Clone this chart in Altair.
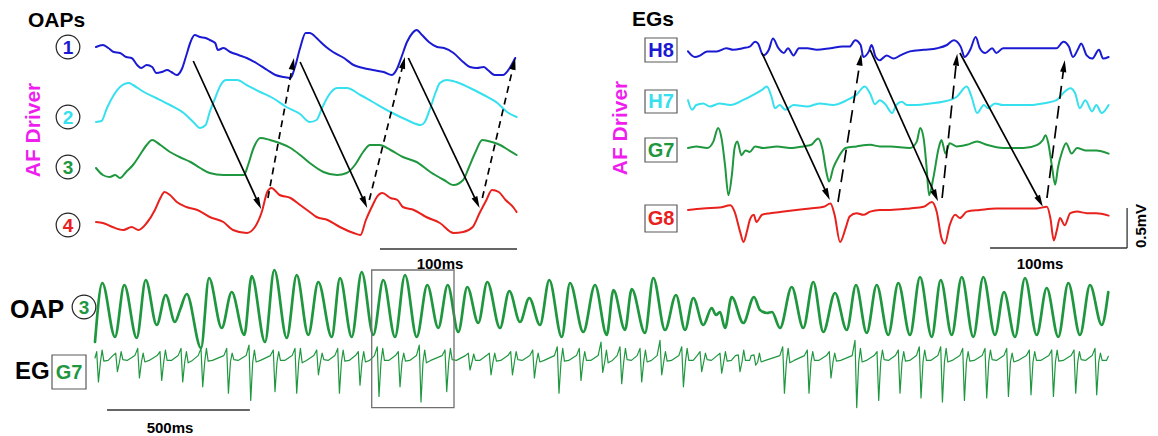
import math
import altair as alt
import pandas as pd

W, H = 1158, 436
FONT = "Liberation Sans"
BLUE, CYAN, GREEN, RED = "#1a1ad2", "#36e0ee", "#1f973f", "#e8211d"
MAGENTA = "#ee1eee"
BOXGRAY = "#5a5a5a"

# ---------------- data: top-left optical action potentials (time ms, signal a.u.)
OAP1_T = [0, 5, 9, 13, 17.5, 22, 26, 30, 33, 37, 41, 44, 48, 52, 55, 59, 63, 66, 69, 72, 76, 80, 83, 87, 89, 93, 98, 104, 110, 117,
          125, 131, 137, 142, 145, 149, 153, 156, 161, 164, 168, 173, 181, 188, 195, 202, 210, 216, 220, 223, 227, 231, 234, 238,
          243, 249, 254, 261, 268, 273, 278, 283, 286, 291, 297, 302, 306]
OAP1_V = [33, 35, 32, 28, 27, 23, 22, 15, 12, 15, 13, 7, 8, 10, 8, 5, 12, 25, 38, 45, 43, 42, 40, 37, 30, 32, 28, 25, 22, 17,
          10, 5, 3, 2, 12, 32, 47, 47, 42, 38, 33, 28, 22, 15, 12, 10, 8, 5, 12, 23, 38, 47, 50, 45, 38, 33, 32, 27, 18, 13,
          12, 13, 10, 5, 5, 12, 22]
OAP2_T = [0, 4, 8, 13, 17.5, 24, 27, 35, 44, 54, 64, 71, 76, 80, 83, 87, 91, 95, 103, 110, 120, 129, 139, 149, 156, 161, 165,
          170, 176, 183, 193, 202, 215, 227, 237, 240, 244, 248, 251, 256, 263, 273, 283, 293, 300, 307]
OAP2_V = [8, 9, 22, 35, 43, 47, 45, 38, 32, 25, 17, 8, 2, 5, 18, 32, 45, 50, 50, 45, 38, 32, 23, 16, 8, 10, 22, 35, 42, 42,
          35, 28, 18, 10, 5, 8, 22, 38, 47, 50, 48, 42, 35, 27, 18, 13]
OAP3_T = [0, 5, 10, 14, 17.5, 22, 27, 32, 37, 41, 47, 54, 61, 69, 76, 83, 93, 103, 108, 111, 115, 120, 127, 134, 142, 149, 156,
          166, 176, 183, 189, 195, 200, 207, 215, 224, 234, 244, 254, 261, 268, 272, 277, 282, 289, 295, 301, 307]
OAP3_V = [17, 10, 8, 10, 7, 13, 20, 30, 40, 45, 40, 33, 28, 23, 17, 12, 10, 10, 10, 20, 37, 47, 45, 42, 37, 30, 22, 13, 10, 12,
          20, 33, 40, 40, 35, 28, 23, 13, 5, 0, 5, 17, 33, 45, 43, 40, 35, 30]
OAP4_T = [0, 5, 12, 20, 26, 31, 37, 43, 47, 50, 54, 59, 66, 74, 83, 93, 100, 110, 116, 121, 125, 128, 134, 142, 149, 156, 161,
          169, 178, 188, 193, 197, 202, 205, 209, 215, 220, 224, 232, 241, 251, 261, 268, 275, 280, 285, 289, 294, 299, 305, 307]
OAP4_V = [14, 13, 9, 6, 9, 6, 13, 26, 38, 44, 41, 34, 29, 26, 19, 14, 6, 3, 9, 24, 44, 48, 41, 38, 31, 24, 19, 16, 9, 3,
          1, 16, 31, 39, 43, 38, 36, 29, 26, 19, 13, 3, 4, 9, 23, 36, 46, 44, 36, 28, 24]

# ---------------- data: top-right electrograms (time ms, mV)
H8_T = [0, 5, 9, 14, 21, 28, 33, 40, 45, 49, 51, 55, 59, 62, 66, 70, 73, 77, 81, 87, 94, 104, 113, 118, 122, 126, 128, 132, 134,
        137, 140, 145, 150, 155, 162, 172, 182, 189, 194, 199, 202, 206, 210, 213, 217, 222, 225, 230, 240, 250, 259, 269, 274,
        278, 281, 285, 287, 291, 295, 300, 303, 307]
H8_V = [-0.03, -0.10, -0.08, -0.03, -0.03, 0.01, -0.01, 0.01, 0.03, 0.09, 0.07, -0.08, -0.01, 0.13, 0.01, -0.05, 0.01, -0.08,
        0.01, 0.01, -0.01, 0.01, 0.03, 0.03, 0.11, 0.05, -0.10, -0.03, 0.05, -0.10, -0.14, -0.08, -0.12, -0.08, -0.03, -0.01,
        0.01, 0.05, 0.11, 0.03, -0.10, -0.01, 0.15, 0.01, -0.05, 0.01, -0.05, 0.01, 0.01, 0.01, 0.01, 0.01, 0.09, 0.03, -0.10,
        0.01, 0.07, -0.08, -0.12, -0.01, -0.12, -0.10]
H7_T = [0, 3, 6, 11, 16, 23, 31, 40, 48, 54, 57.5, 61, 63.5, 67, 71, 77, 87, 96, 106, 116, 123, 129, 133, 136.5, 140, 144, 149,
        152, 156, 160, 167, 177, 186, 196, 203.5, 207, 211, 216, 219, 224, 230, 240, 250, 259, 269, 274, 279, 282.5, 286, 290,
        295, 298, 302, 307]
H7_V = [0.06, -0.06, 0, 0.02, -0.02, 0.02, 0, 0.06, 0.13, 0.19, 0.23, 0.10, -0.04, 0, -0.06, 0, -0.02, 0.02, 0, 0.06, 0.13,
        0.23, 0.14, 0.01, 0.06, 0.01, -0.10, 0, 0.04, 0, 0, 0.02, 0.04, 0.10, 0.23, 0.10, -0.10, 0, -0.04, 0.02, 0, 0, 0, 0.02,
        0.06, 0.15, 0.21, 0.15, -0.04, 0.06, -0.08, 0, -0.10, 0]
G7_T = [0, 6, 14, 18.5, 22, 24.5, 27, 29.5, 32, 34, 36, 39, 42, 45, 49, 55, 65, 74.5, 84, 90, 95, 98, 101, 103, 106, 110, 115,
        123, 133, 140, 147.5, 162, 167, 169.5, 172, 174, 176, 179, 183, 185, 188, 191, 196, 203.5, 211, 218, 230, 245, 255, 259,
        261, 263, 265.5, 268, 270, 273, 276, 280, 284, 290, 298, 307]
G7_V = [0, 0.02, 0, 0.08, 0.25, 0.12, -0.21, -0.59, -0.34, 0, 0.08, -0.09, -0.03, -0.05, 0.02, 0, 0.02, 0, 0.02, 0.04, 0.12, 0,
        -0.30, -0.42, -0.25, -0.11, 0, 0.02, 0.04, 0.02, 0.02, 0, 0.08, 0.25, 0.12, -0.21, -0.59, -0.38, 0, 0.10, -0.07, 0.06,
        0.02, 0.04, 0.08, 0.04, 0, 0, 0.04, 0.10, 0.16, 0.06, -0.21, -0.46, -0.25, -0.05, 0.06, -0.07, 0, -0.03, -0.03, -0.07]
G8_T = [0, 11, 23, 31, 34, 38, 40.5, 43, 45, 48, 50, 54, 60, 70, 79, 89, 99, 104, 107, 111, 115, 118, 123, 128, 133, 140, 147.5,
        162, 172, 178, 181.5, 185, 187.5, 191, 195, 198.5, 203.5, 213, 225, 240, 254.5, 262, 264.5, 267, 269, 271.5, 275, 279,
        284, 291, 298, 307]
G8_V = [0, 0.02, 0.03, 0.06, -0.02, -0.27, -0.40, -0.27, -0.13, -0.06, -0.15, -0.06, -0.04, -0.02, 0, 0.02, 0.04, 0.08, -0.06,
        -0.40, -0.23, -0.08, -0.04, -0.06, -0.02, 0, 0, 0.02, 0.04, 0.10, -0.02, -0.35, -0.42, -0.19, -0.06, -0.10, -0.02, 0,
        0.02, 0.02, 0.02, 0.04, -0.10, -0.38, -0.27, -0.10, -0.19, -0.04, -0.02, -0.04, -0.04, -0.07]

# ---------------- data: bottom long recordings
OAPL_T = [0, 25.5, 70, 102.5, 146, 177.5, 216, 247.5, 280, 297.5, 321, 371, 399, 443.5, 478.5, 522.5, 548.5, 595, 627.5, 671,
          706, 746.5, 781.5, 828.5, 857.5, 898.5, 933.5, 974, 1009, 1050, 1085, 1126, 1163, 1201.5, 1234.5, 1271.5, 1303,
          1341.5, 1373, 1417.5, 1450, 1487.5, 1520, 1557.5, 1590, 1633.5, 1662.5, 1709, 1750, 1791, 1814.5, 1855, 1878.5,
          1925, 1954, 1995, 2033.5, 2065, 2094, 2129, 2158.5, 2173.5, 2187.5, 2205, 2228.5, 2269, 2306.5, 2327.5, 2352,
          2369.5, 2397.5, 2438.5, 2479, 2514, 2549, 2590, 2631, 2663.5, 2701, 2736, 2776.5, 2811.5, 2852.5, 2887.5, 2928.5,
          2960, 2998.5, 3033.5, 3074, 3109, 3150, 3181.5, 3220, 3255, 3296, 3331, 3371.5, 3406.5, 3447.5, 3482.5, 3523.5,
          3546.5]
OAPL_V = [-2, 57, 3, 55, 2, 60, 15, 45, 18, 30, 46, -8, 62, 12, 48, 5, 64, -2, 70, 2, 65, 5, 58, 3, 62, 3, 68, 5, 60, 3,
          65, 3, 55, 12, 55, 8, 53, 17, 58, 12, 49, 18, 42, 15, 60, 3, 57, 8, 55, 5, 50, 10, 51, 7, 62, 10, 45, 10, 42, 15,
          32, 25, 28, 12, 43, 17, 43, 30, 27, 28, 12, 53, 12, 58, 8, 47, 10, 55, 7, 55, 5, 57, 5, 63, 3, 60, 5, 63, 3, 63,
          5, 48, 3, 62, 5, 52, 3, 57, 5, 55, 15, 48]
EGL_SPIKE_T = [6, 72.5, 149.5, 227.5, 301, 371, 461, 539, 624, 700, 776, 849.5, 921.5, 988, 1061.5, 1135, 1225, 1306.5, 1380,
               1455, 1532, 1618, 1695, 1771, 1837.5, 1907.5, 1977.5, 2053.5, 2117.5, 2187.5, 2251.5, 2306.5, 2407, 2493, 2570,
               2660, 2737, 2811.5, 2885, 2960, 3037, 3115, 3191, 3270, 3348.5, 3426.5, 3500]
EGL_UP = [0.08, 0.06, 0.12, 0.08, 0.12, 0.12, 0.12, 0.16, 0.10, 0.12, 0.10, 0.12, 0.08, 0.14, 0.08, 0.16, 0.10, 0.06, 0.06,
          0.08, 0.10, 0.14, 0.12, 0.20, 0.14, 0.12, 0.22, 0.14, 0.08, 0.06, 0.04, 0.04, 0.14, 0.10, 0.08, 0.22, 0.08, 0.10,
          0.14, 0.14, 0.12, 0.12, 0.12, 0.10, 0.10, 0.10, 0.12]
EGL_DOWN = [-0.30, -0.17, -0.25, -0.28, -0.30, -0.36, -0.44, -0.53, -0.42, -0.44, -0.21, -0.44, -0.34, -0.48, -0.36, -0.55,
            -0.42, -0.15, -0.21, -0.21, -0.25, -0.44, -0.28, -0.18, -0.32, -0.30, -0.21, -0.36, -0.17, -0.19, -0.17, -0.09,
            -0.44, -0.44, -0.25, -0.62, -0.53, -0.44, -0.50, -0.55, -0.53, -0.50, -0.48, -0.46, -0.48, -0.44, -0.46]
EGL_RIPPLE_UP = [0.10, 0.08, 0.06, 0.10, 0.08, 0.12, 0.06, 0.10, 0.08, 0.12, 0.06, 0.10, 0.08, 0.12, 0.06, 0.10, 0.12, 0.05,
                 0.06, 0.08, 0.06, 0.12, 0.08, 0.10, 0.12, 0.10, 0.08, 0.12, 0.06, 0.08, 0.10, 0.06, 0.12, 0.08, 0.06, 0.12,
                 0.10, 0.08, 0.10, 0.12, 0.08, 0.10, 0.06, 0.08, 0.10, 0.08, 0.06]
EGL_RIPPLE_DOWN = [-0.04, -0.02, -0.05, -0.03, -0.06, -0.04, -0.02, -0.05, -0.03, -0.06, -0.02, -0.04, -0.05, -0.03, -0.04,
                   -0.06, -0.02, -0.03, -0.04, -0.02, -0.05, -0.04, -0.03, -0.06, -0.02, -0.05, -0.04, -0.03, -0.02, -0.04,
                   -0.03, -0.05, -0.06, -0.03, -0.04, -0.05, -0.02, -0.04, -0.03, -0.05, -0.04, -0.02, -0.05, -0.03, -0.04,
                   -0.02, -0.03]
EGL_END = (3546.5, 0.02)

# arrows: (from trace, t ms, value, to trace, t ms, value, dashed)
TL_ARROWS = [("1", 71, 19, "4", 120.5, 27, False), ("1", 149, 18, "4", 198, 28, False), ("1", 228, 22, "4", 280, 28, False),
             ("4", 125.5, 38, "1", 144.5, 22, True), ("4", 199.5, 36, "1", 225.5, 23, True), ("4", 282, 38, "1", 306, 22, True)]
TR_ARROWS = [("H8", 54, -0.05, "G8", 103.5, 0.125, False), ("H8", 133, -0.01, "G8", 182.5, 0.11, False),
             ("H8", 198.5, -0.05, "G8", 259, 0.04, False), ("G8", 109.5, 0.10, "H8", 126.5, -0.06, True),
             ("G8", 185.5, 0.15, "H8", 196.5, -0.06, True), ("G8", 262, 0.15, "H8", 275, -0.14, True)]

# ---------------- layout of panels (pixels)
TL_X0, TL_PXMS = 96, 1.37
TL_BASE = {"1": 80, "2": 130, "3": 185, "4": 236}
TR_X0, TR_PXMS, TR_PXMV = 688, 1.37, 80
TR_BASE = {"H8": 49, "H7": 105, "G7": 148, "G8": 210}
B_X0, B_PXMS = 95, 1 / 3.5
B_OAP_BASE, B_EG_BASE, B_EG_PXMV = 340, 358, 80

XS = alt.Scale(domain=[0, W], nice=False, zero=False)
YS = alt.Scale(domain=[0, H], nice=False, zero=False, reverse=True)


def enc(**extra):
    return dict(x=alt.X("x:Q", scale=XS, axis=None), y=alt.Y("y:Q", scale=YS, axis=None), **extra)


def trace(t, v, x0, pxms, base, gain):
    return pd.DataFrame({"x": [x0 + a * pxms for a in t], "y": [base - b * gain for b in v], "i": range(len(t))})


def line(df, color, width, interp="monotone"):
    return alt.Chart(df).mark_line(color=color, strokeWidth=width, interpolate=interp, strokeJoin="round",
                                   strokeCap="round").encode(**enc(order="i:Q"))


layers = []
# top-left traces
for key, (t, v), col in zip(["1", "2", "3", "4"], [(OAP1_T, OAP1_V), (OAP2_T, OAP2_V), (OAP3_T, OAP3_V), (OAP4_T, OAP4_V)],
                            [BLUE, CYAN, GREEN, RED]):
    layers.append(line(trace(t, v, TL_X0, TL_PXMS, TL_BASE[key], 1), col, 2.0))
# top-right traces
for key, (t, v), col in zip(["H8", "H7", "G7", "G8"], [(H8_T, H8_V), (H7_T, H7_V), (G7_T, G7_V), (G8_T, G8_V)],
                            [BLUE, CYAN, GREEN, RED]):
    layers.append(line(trace(t, v, TR_X0, TR_PXMS, TR_BASE[key], TR_PXMV), col, 2.0))
# bottom OAP
layers.append(line(trace(OAPL_T, OAPL_V, B_X0, B_PXMS, B_OAP_BASE, 1), GREEN, 2.7))
# bottom EG: each complex drawn through its read deflections
eg_t, eg_v = [0.0], [0.0]
for ts, up, dn, r1, r2 in zip(EGL_SPIKE_T, EGL_UP, EGL_DOWN, EGL_RIPPLE_UP, EGL_RIPPLE_DOWN):
    for dt, val in ((-10, 0.03), (0, up), (6, dn), (13, -0.05), (19, r1), (25, r2), (40, -0.03)):
        if ts + dt > eg_t[-1]:
            eg_t.append(ts + dt)
            eg_v.append(val)
eg_t.append(EGL_END[0])
eg_v.append(EGL_END[1])
layers.append(line(trace(eg_t, eg_v, B_X0, B_PXMS, B_EG_BASE, B_EG_PXMV), GREEN, 1.2, "linear"))

# arrows
ARROW = "M0,-1L0.45,0.7L-0.45,0.7Z"


def arrow_frames(specs, x0, pxms, bases, gain):
    rules, heads = [], []
    for a, t1, v1, b, t2, v2, dashed in specs:
        xa, ya = x0 + t1 * pxms, bases[a] - v1 * gain
        xb, yb = x0 + t2 * pxms, bases[b] - v2 * gain
        dx, dy = xb - xa, yb - ya
        n = math.hypot(dx, dy)
        ux, uy = dx / n, dy / n
        rules.append({"x": xa, "y": ya, "x2": xb - ux * 6, "y2": yb - uy * 6, "dashed": dashed})
        heads.append({"x": xb - ux * 7, "y": yb - uy * 7, "ang": math.degrees(math.atan2(dx, -dy)) % 360})
    return pd.DataFrame(rules), pd.DataFrame(heads)


for specs, x0, pxms, bases, gain, dash in [(TL_ARROWS, TL_X0, TL_PXMS, TL_BASE, 1, [7, 5]),
                                          (TR_ARROWS, TR_X0, TR_PXMS, TR_BASE, TR_PXMV, [13, 7])]:
    rdf, hdf = arrow_frames(specs, x0, pxms, bases, gain)
    for dashed in (False, True):
        sub = rdf[rdf["dashed"] == dashed]
        kw = dict(color="black", strokeWidth=1.7)
        if dashed:
            kw["strokeDash"] = dash
        layers.append(alt.Chart(sub).mark_rule(**kw).encode(**enc(x2="x2:Q", y2="y2:Q")))
    layers.append(alt.Chart(hdf).mark_point(shape=ARROW, filled=True, color="black", size=196, opacity=1,
                                            strokeWidth=0).encode(**enc(angle=alt.Angle("ang:Q", scale=None))))

# scale bars
bars = pd.DataFrame([
    {"x": TL_X0 + 207.3 * TL_PXMS, "x2": TL_X0 + 307.3 * TL_PXMS, "y": 249, "y2": 249},
    {"x": TR_X0 + 220.5 * TR_PXMS, "x2": TR_X0 + 320.5 * TR_PXMS, "y": 248, "y2": 248},
    {"x": TR_X0 + 320.5 * TR_PXMS, "x2": TR_X0 + 320.5 * TR_PXMS, "y": 248, "y2": 248 - 0.5 * TR_PXMV},
    {"x": B_X0 + 42 * B_PXMS, "x2": B_X0 + 542 * B_PXMS, "y": 410, "y2": 410},
])
layers.append(alt.Chart(bars).mark_rule(color="#333333", strokeWidth=1.3).encode(**enc(x2="x2:Q", y2="y2:Q")))

# bottom zoom box
box = pd.DataFrame([{"x": B_X0 + 968.5 * B_PXMS, "x2": B_X0 + 1256.5 * B_PXMS, "y": 270, "y2": 407.7}])
layers.append(alt.Chart(box).mark_rect(fillOpacity=0, stroke="#707070", strokeWidth=1.3).encode(**enc(x2="x2:Q", y2="y2:Q")))

# label boxes
lbox = pd.DataFrame([
    {"x": 645, "x2": 677, "y": 38, "y2": 62}, {"x": 645, "x2": 677, "y": 90, "y2": 113},
    {"x": 645, "x2": 677, "y": 138, "y2": 162}, {"x": 645, "x2": 677, "y": 205, "y2": 232},
    {"x": 52, "x2": 86, "y": 355, "y2": 389},
])
layers.append(alt.Chart(lbox).mark_rect(fill="white", stroke=BOXGRAY, strokeWidth=1.2).encode(**enc(x2="x2:Q", y2="y2:Q")))

# circles
circ = pd.DataFrame([{"x": 68, "y": 47}, {"x": 68, "y": 117}, {"x": 68, "y": 167}, {"x": 68, "y": 225}, {"x": 84, "y": 307}])
layers.append(alt.Chart(circ).mark_point(shape="circle", filled=False, color="#222222", size=560, strokeWidth=1.2,
                                         opacity=1).encode(**enc()))


def text(rows, size, color, align="center", angle=0, weight="bold"):
    return alt.Chart(pd.DataFrame(rows)).mark_text(font=FONT, fontSize=size, fontWeight=weight, color=color, align=align,
                                                  baseline="middle", angle=angle).encode(**enc(text="t:N"))


layers += [
    text([{"x": 28, "y": 21, "t": "OAPs"}, {"x": 632, "y": 20, "t": "EGs"}], 21, "black", "left"),
    text([{"x": 10, "y": 310, "t": "OAP"}], 25, "black", "left"),
    text([{"x": 15, "y": 372, "t": "EG"}], 24, "black", "left"),
    text([{"x": 68, "y": 48, "t": "1"}], 19, BLUE), text([{"x": 68, "y": 118, "t": "2"}], 19, CYAN),
    text([{"x": 68, "y": 168, "t": "3"}, {"x": 84, "y": 308, "t": "3"}], 19, GREEN),
    text([{"x": 68, "y": 226, "t": "4"}], 19, RED),
    text([{"x": 661, "y": 51, "t": "H8"}], 20, BLUE), text([{"x": 661, "y": 102, "t": "H7"}], 20, CYAN),
    text([{"x": 661, "y": 151, "t": "G7"}, {"x": 69, "y": 373, "t": "G7"}], 20, GREEN),
    text([{"x": 661, "y": 219, "t": "G8"}], 20, RED),
    text([{"x": 34, "y": 130, "t": "AF Driver"}, {"x": 621, "y": 128, "t": "AF Driver"}], 21, MAGENTA, angle=270),
    text([{"x": 440, "y": 264, "t": "100ms"}, {"x": 1040, "y": 264, "t": "100ms"}, {"x": 170, "y": 428, "t": "500ms"}],
         15, "black"),
    text([{"x": 1141, "y": 226, "t": "0.5mV"}], 15, "black", angle=270),
]

chart = alt.layer(*layers).properties(
    width=W, height=H, autosize=alt.AutoSizeParams(type="none"), padding=0, background="white"
).configure_view(stroke=None)

chart.save("out.html", embed_options={"renderer": "svg", "actions": False})
